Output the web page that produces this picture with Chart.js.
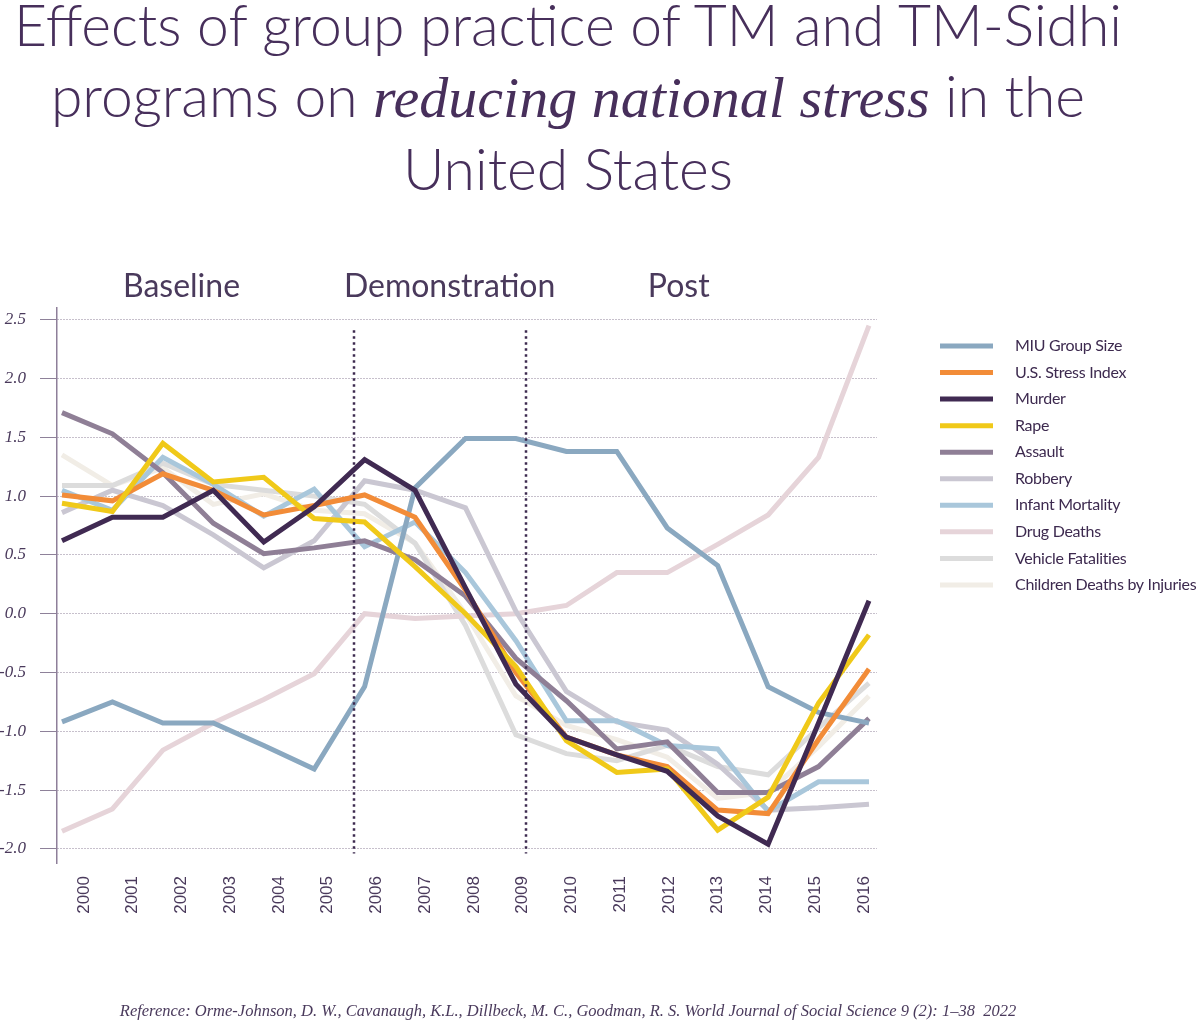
<!DOCTYPE html>
<html>
<head>
<meta charset="utf-8">
<script src="https://cdn.jsdelivr.net/npm/chart.js@4.4.1/dist/chart.umd.min.js"></script>
<style>
  body { margin: 0; background: #fff; }
  #wrap { position: relative; width: 1200px; height: 1021px; overflow: hidden; }
  #title { position: absolute; left: 0; top: -11px; width: 1136px; text-align: center;
           font: 300 57px Lato, sans-serif; line-height: 71px; color: #472f5b; }
  #title em { font-family: "Liberation Serif", serif; font-style: italic; font-size: 58px; }
  canvas { position: absolute; left: 0; top: 0; }
  #ref { position: absolute; left: 0; top: 1001px; width: 1136px; text-align: center;
         font: italic 16.5px "Liberation Serif", serif; color: #4a3a5c; }
</style>
</head>
<body>
<div id="wrap">
  <canvas id="chart" width="1200" height="1021"></canvas>
  <div id="title">Effects of group practice of TM and TM-Sidhi<br>programs on <em>reducing national stress</em> in the<br>United States</div>
  <div id="ref">Reference: Orme-Johnson, D. W., Cavanaugh, K.L., Dillbeck, M. C., Goodman, R. S. World Journal of Social Science 9 (2): 1–38&nbsp; 2022</div>
</div>
<script>
const years = [2000, 2001, 2002, 2003, 2004, 2005, 2006, 2007, 2008, 2009, 2010, 2011, 2012, 2013, 2014, 2015, 2016];

const miuGroupSize = [-0.92, -0.75, -0.93, -0.93, -1.12, -1.32, -0.62, 1.07, 1.49, 1.49, 1.38, 1.38, 0.73, 0.41, -0.62, -0.84, -0.93];
const stressIndex  = [1.01, 0.96, 1.19, 1.05, 0.84, 0.92, 1.01, 0.82, 0.2, -0.5, -1.05, -1.2, -1.3, -1.67, -1.7, -1.07, -0.47];
const murder       = [0.62, 0.82, 0.82, 1.05, 0.61, 0.91, 1.31, 1.05, 0.22, -0.6, -1.05, -1.2, -1.34, -1.72, -1.96, -0.93, 0.11];
const rape         = [0.94, 0.87, 1.45, 1.12, 1.16, 0.81, 0.78, 0.4, 0.0, -0.45, -1.08, -1.35, -1.32, -1.84, -1.56, -0.76, -0.18];
const assault      = [1.71, 1.53, 1.2, 0.77, 0.51, 0.56, 0.62, 0.46, 0.15, -0.38, -0.74, -1.15, -1.09, -1.52, -1.52, -1.3, -0.89];
const robbery      = [0.86, 1.05, 0.92, 0.67, 0.39, 0.62, 1.13, 1.05, 0.9, 0.02, -0.66, -0.92, -0.99, -1.28, -1.67, -1.65, -1.62];
const infantMort   = [1.05, 0.88, 1.33, 1.1, 0.83, 1.06, 0.57, 0.78, 0.35, -0.23, -0.91, -0.91, -1.12, -1.15, -1.68, -1.43, -1.43];
const drugDeaths   = [-1.85, -1.66, -1.16, -0.93, -0.73, -0.51, 0.0, -0.04, -0.02, 0.0, 0.07, 0.35, 0.35, 0.59, 0.84, 1.33, 2.45];
const vehicleFat   = [1.09, 1.09, 1.28, 1.1, 1.05, 1.0, 0.93, 0.6, -0.1, -1.03, -1.19, -1.25, -1.12, -1.3, -1.37, -0.97, -0.59];
const childDeaths  = [1.35, 1.09, 1.24, 0.93, 1.02, 0.88, 0.85, 0.6, 0.0, -0.7, -0.95, -1.07, -1.22, -1.57, -1.52, -1.13, -0.7];

const seriesNames = ['MIU Group Size', 'U.S. Stress Index', 'Murder', 'Rape', 'Assault', 'Robbery',
                     'Infant Mortality', 'Drug Deaths', 'Vehicle Fatalities', 'Children Deaths by Injuries'];
const seriesValues = [miuGroupSize, stressIndex, murder, rape, assault, robbery, infantMort, drugDeaths, vehicleFat, childDeaths];
const seriesColors = ['#8aa8c0', '#f28c38', '#402a52', '#f0c919', '#8f7f96', '#cac7d2',
                      '#a9c7db', '#e6d4d9', '#dcdcdc', '#f1ede6'];
// lower = drawn on top
const seriesOrder = [3, 2, 0, 1, 4, 6, 5, 7, 8, 9];

const yTicks = [2.5, 2.0, 1.5, 1.0, 0.5, 0.0, -0.5, -1.0, -1.5, -2.0];
const phaseNames = ['Baseline', 'Demonstration', 'Post'];
const phaseCenters = [2002, 2007.5, 2012.2];
const phaseBounds = [2005.79, 2009.2];

const ink = '#4a3a5c';

const extras = {
  id: 'extras',
  afterDatasetsDraw(chart) {
    const { ctx, scales } = chart;
    const x = scales.x, y = scales.y, xl = scales.xl;
    ctx.save();
    // phase boundaries
    ctx.strokeStyle = '#3d2a4f';
    ctx.lineWidth = 2.5;
    ctx.setLineDash([2.5, 3.5]);
    phaseBounds.forEach(b => {
      const px = Math.round(x.getPixelForValue(b));
      ctx.beginPath();
      ctx.moveTo(px, y.getPixelForValue(2.41));
      ctx.lineTo(px, y.getPixelForValue(-2.04));
      ctx.stroke();
    });
    ctx.setLineDash([]);
    // phase names
    ctx.fillStyle = ink;
    ctx.font = '32px Lato, sans-serif';
    ctx.textAlign = 'center';
    ctx.textBaseline = 'middle';
    phaseNames.forEach((n, i) => {
      ctx.fillText(n, xl.getPixelForValue(phaseCenters[i]), chart.chartArea.top - 21);
    });
    // legend
    const lx = chart.chartArea.right + 63;
    const ly = chart.chartArea.top + 38;
    ctx.font = '16px Lato, sans-serif';
    ctx.letterSpacing = '-0.3px';
    ctx.textAlign = 'left';
    chart.data.datasets.forEach((ds, i) => {
      const yy = ly + i * 26.55;
      ctx.strokeStyle = ds.borderColor;
      ctx.lineWidth = 5;
      ctx.beginPath();
      ctx.moveTo(lx, yy);
      ctx.lineTo(lx + 53, yy);
      ctx.stroke();
      ctx.fillStyle = '#3d2a4f';
      ctx.fillText(ds.label, lx + 75, yy);
    });
    ctx.restore();
  }
};

new Chart(document.getElementById('chart'), {
  type: 'line',
  data: {
    datasets: seriesNames.map((name, i) => ({
      label: name,
      data: years.map((yr, j) => ({ x: yr, y: seriesValues[i][j] })),
      borderColor: seriesColors[i],
      backgroundColor: seriesColors[i],
      borderWidth: 5,
      borderJoinStyle: 'miter',
      borderCapStyle: 'butt',
      pointRadius: 0,
      tension: 0,
      order: seriesOrder[i]
    }))
  },
  options: {
    responsive: false,
    devicePixelRatio: 1,
    animation: false,
    layout: { padding: { top: 308, right: 323, left: 0, bottom: 0 } },
    plugins: { legend: { display: false }, tooltip: { enabled: false } },
    scales: {
      x: {
        type: 'linear',
        display: false,
        min: 1999.901,
        max: 2016.159
      },
      xl: {
        type: 'linear',
        position: 'bottom',
        min: 1999.446,
        max: 2016.267,
        afterBuildTicks: s => { s.ticks = years.map(v => ({ value: v })); },
        afterFit: s => { s.height = 158; },
        grid: { display: false },
        border: { display: false },
        ticks: {
          autoSkip: false,
          minRotation: 90,
          maxRotation: 90,
          padding: 5,
          color: ink,
          font: { family: 'Liberation Sans', size: 17 },
          callback: v => String(v)
        }
      },
      y: {
        type: 'linear',
        min: -2.12,
        max: 2.6,
        afterBuildTicks: s => { s.ticks = yTicks.map(v => ({ value: v })); },
        afterFit: s => { s.width = 57; },
        grid: {
          color: '#8e8199',
          lineWidth: 1,
          tickLength: 17,
          drawTicks: true
        },
        border: { display: true, color: '#8e7f99', width: 1.5, dash: [1, 2] },
        ticks: {
          padding: 14,
          color: ink,
          font: { family: 'Liberation Serif', size: 17, style: 'italic' },
          callback: v => v.toFixed(1)
        }
      }
    }
  },
  plugins: [extras]
});
</script>
</body>
</html>
